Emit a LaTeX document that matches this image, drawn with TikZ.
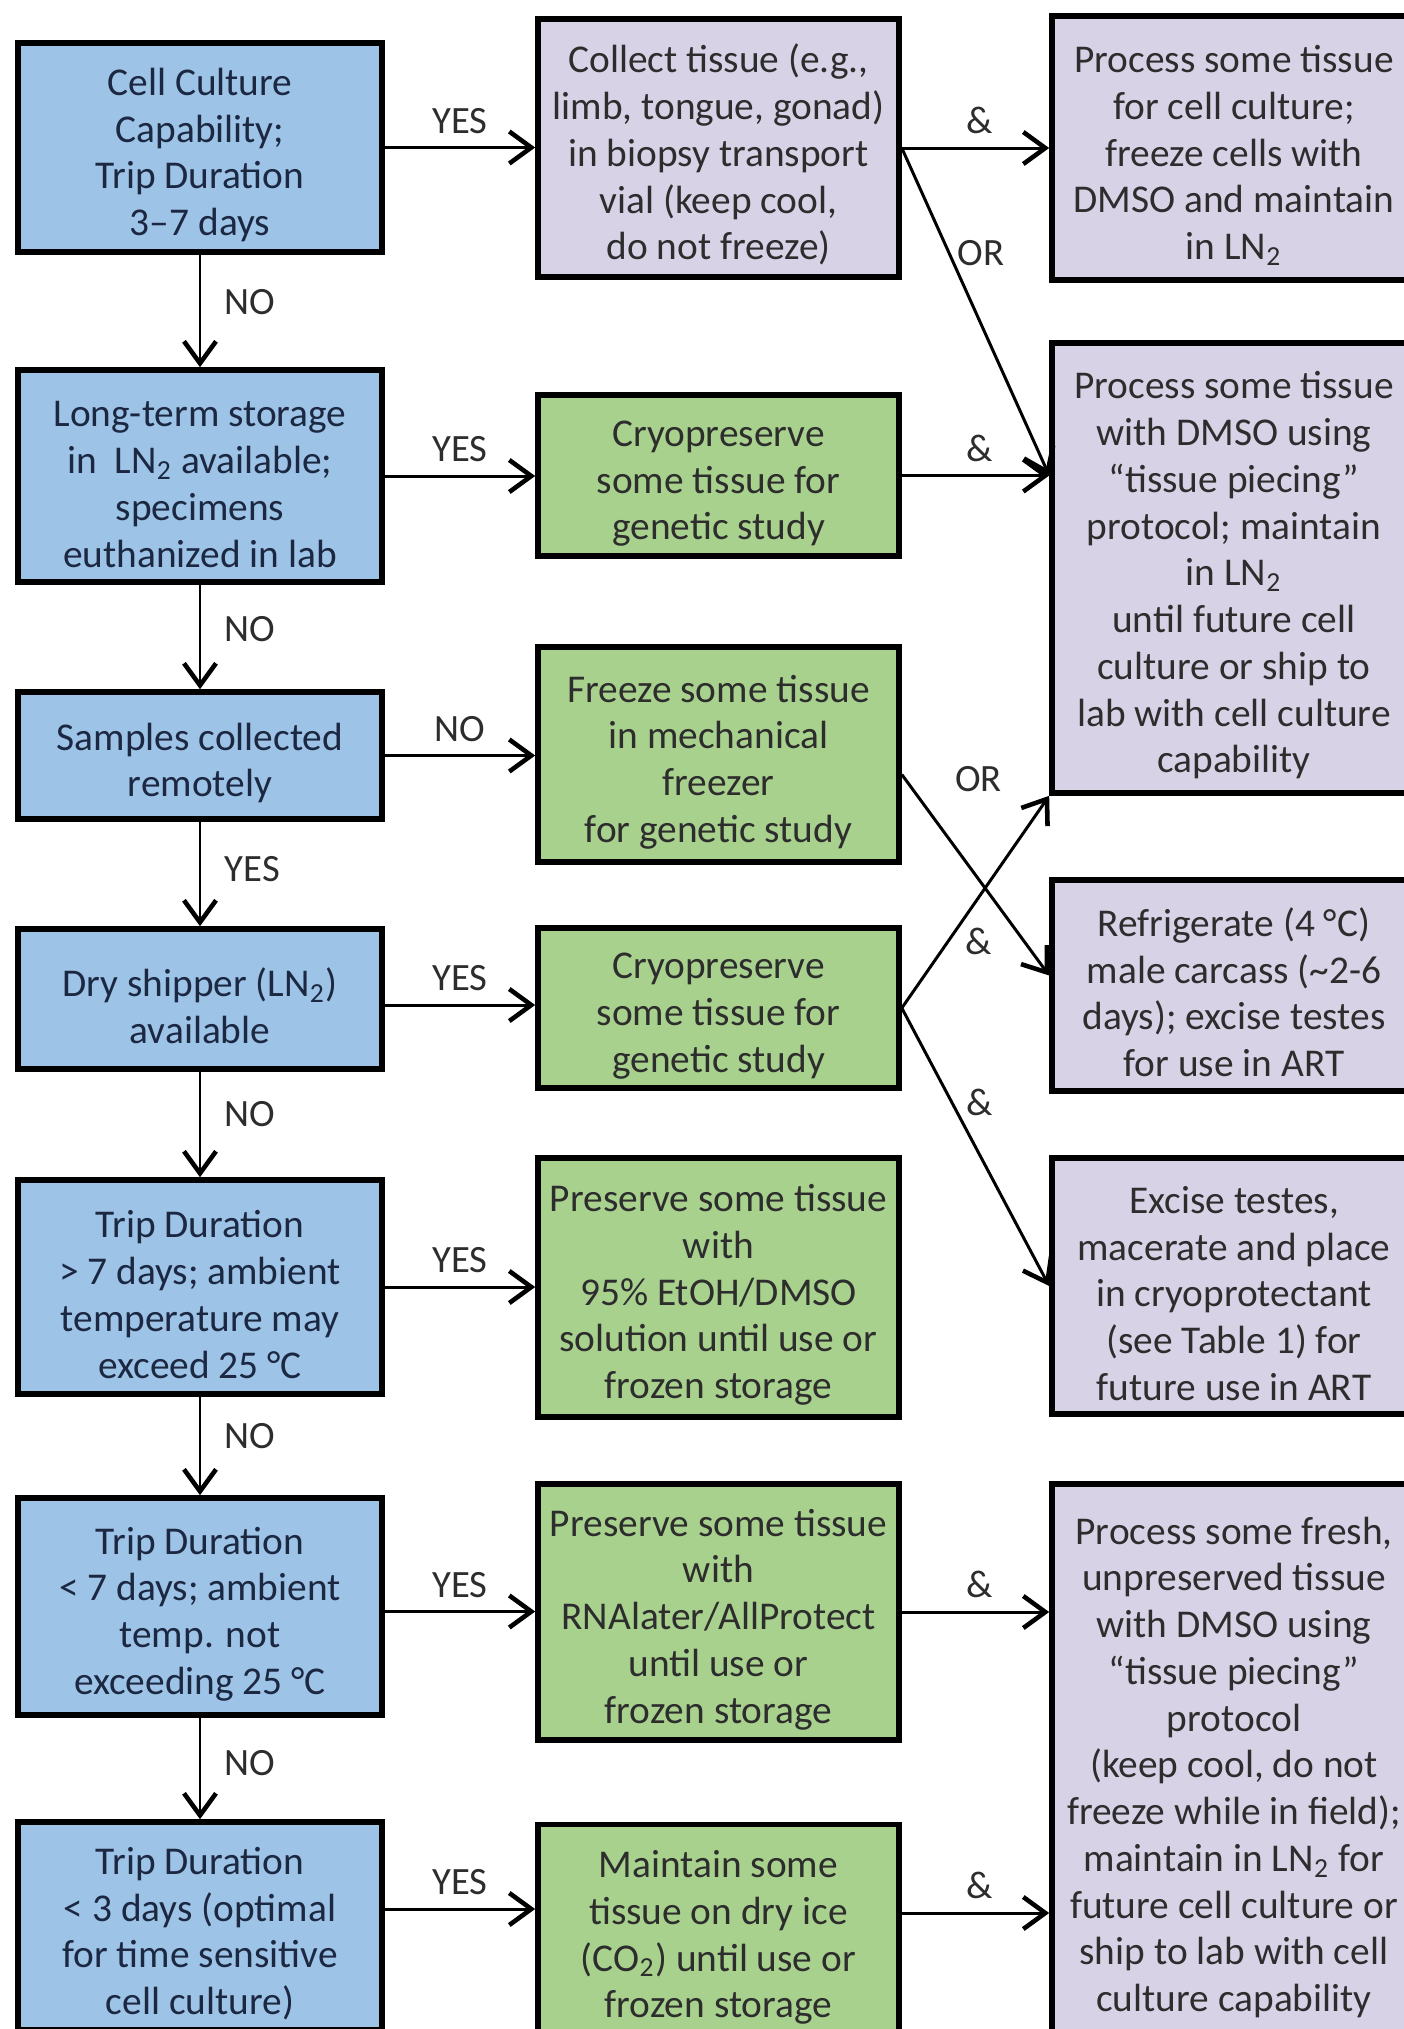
\documentclass[tikz,border=0pt]{standalone}
\usepackage{fontspec}
\setmainfont{Carlito}
\usetikzlibrary{arrows.meta}
\definecolor{queryfill}{RGB}{157,195,230}
\definecolor{storefill}{RGB}{169,209,142}
\definecolor{lilacfill}{RGB}{216,210,230}
\definecolor{querytext}{RGB}{28,40,66}
\definecolor{boxtext}{RGB}{45,45,45}
% extra room above the first line of a box
\newcommand\toproom{\rule{0pt}{12pt}}
\begin{document}
\begin{tikzpicture}[x=0.1mm,y=-0.1mm,
    box/.style={draw=black, line width=1.6pt, align=center, inner sep=0pt, text=boxtext,
        font=\fontsize{11.2}{13.3}\selectfont},
    query/.style={box, fill=queryfill, text=querytext, minimum width=36.4mm},
    store/.style={box, fill=storefill, minimum width=36.1mm},
    lilac/.style={box, fill=lilacfill, minimum width=36.4mm},
    arr/.style={-{Straight Barb[length=2.2mm,width=3.2mm,line width=1.3pt]}, line width=0.85pt},
    lbl/.style={font=\fontsize{11}{13}\selectfont, text=boxtext, inner sep=1.5pt}]
    \useasboundingbox (0,0) rectangle (1404,2029);
    \clip (0,0) rectangle (1404,2029);
    % questions
    \node[query, minimum height=20.9mm] (b1) at (200,147.5) {\toproom Cell Culture\\Capability;\\Trip Duration\\3–7 days};
    \node[query, minimum height=21.2mm] (b2) at (200,476) {\toproom Long-term storage\\in\ \ LN\textsubscript{2} available;\\specimens\\euthanized in lab};
    \node[query, minimum height=12.7mm] (b3) at (200,755.5) {\toproom Samples collected\\remotely};
    \node[query, minimum height=14mm] (b4) at (200,999) {\toproom Dry shipper (LN\textsubscript{2})\\available};
    \node[query, minimum height=21.4mm] (b5) at (200,1287) {\toproom Trip Duration\\> 7 days; ambient\\temperature may\\exceed 25 °C};
    \node[query, minimum height=21.7mm] (b6) at (200,1606.5) {\toproom Trip Duration\\< 7 days; ambient\\temp. not\\exceeding 25 °C};
    \node[query, minimum height=20.8mm] (b7) at (200,1926) {\toproom Trip Duration\\< 3 days (optimal\\for time sensitive\\cell culture)};
    % first steps
    \node[lilac, minimum width=36.1mm, minimum height=25.8mm] (m1) at (718.5,148) {\toproom Collect tissue (e.g.,\\limb, tongue, gonad)\\in biopsy transport\\vial (keep cool,\\do not freeze)};
    \node[store, minimum height=16.1mm] (m2) at (718.5,475.5) {\toproom Cryopreserve\\some tissue for\\genetic study};
    \node[store, minimum height=21.5mm] (m3) at (718.5,754.5) {\toproom Freeze some tissue\\in mechanical\\freezer\\for genetic study};
    \node[store, minimum height=16mm] (m4) at (718.5,1008) {\toproom Cryopreserve\\some tissue for\\genetic study};
    \node[store, minimum height=25.9mm] (m5) at (718.5,1287.5) {\toproom Preserve some tissue\\with\\95\% EtOH/DMSO\\solution until use or\\frozen storage};
    \node[store, minimum height=25.6mm] (m6) at (718.5,1612) {\toproom Preserve some tissue\\with\\RNAlater/AllProtect\\until use or\\frozen storage};
    \node[store, minimum height=21.1mm] (m7) at (718.5,1930) {\toproom Maintain some\\tissue on dry ice\\(CO\textsubscript{2}) until use or\\frozen storage};
    % follow-up
    \node[lilac, minimum height=26.4mm] (r1) at (1234,148) {\toproom Process some tissue\\for cell culture;\\freeze cells with\\DMSO and maintain\\in LN\textsubscript{2}};
    \node[lilac, minimum height=45mm] (r2) at (1234,568) {\toproom Process some tissue\\with DMSO using\\“tissue piecing”\\protocol; maintain\\in LN\textsubscript{2}\\until future cell\\culture or ship to\\lab with cell culture\\capability};
    \node[lilac, minimum height=21.1mm] (r3) at (1234,985.5) {\toproom Refrigerate (4 °C)\\male carcass (\textasciitilde2-6\\days); excise testes\\for use in ART};
    \node[lilac, minimum height=25.6mm] (r4) at (1234,1286) {\toproom Excise testes,\\macerate and place\\in cryoprotectant\\(see Table 1) for\\future use in ART};
    \node[lilac, minimum height=55.2mm] (r5) at (1234,1760) {\toproom Process some fresh,\\unpreserved tissue\\with DMSO using\\“tissue piecing”\\protocol\\(keep cool, do not\\freeze while in field);\\maintain in LN\textsubscript{2} for\\future cell culture or\\ship to lab with cell\\culture capability};
    % down the question column
    \draw[arr] (b1) -- node[lbl, right=1.8mm, pos=0.42] {NO} (b2);
    \draw[arr] (b2) -- node[lbl, right=1.8mm, pos=0.42] {NO} (b3);
    \draw[arr] (b3) -- node[lbl, right=1.8mm, pos=0.45] {YES} (b4);
    \draw[arr] (b4) -- node[lbl, right=1.8mm, pos=0.4] {NO} (b5);
    \draw[arr] (b5) -- node[lbl, right=1.8mm, pos=0.4] {NO} (b6);
    \draw[arr] (b6) -- node[lbl, right=1.8mm, pos=0.45] {NO} (b7);
    % across
    \draw[arr] (b1.east) -- node[lbl, above=2pt] {YES} (b1.east -| m1.west);
    \draw[arr] (b2.east) -- node[lbl, above=2pt] {YES} (b2.east -| m2.west);
    \draw[arr] (b3.east) -- node[lbl, above=2pt] {NO} (b3.east -| m3.west);
    \draw[arr] ([yshift=-0.6mm]b4.east) -- node[lbl, above=2pt] {YES} ([yshift=-0.6mm]b4.east -| m4.west);
    \draw[arr] (b5.east) -- node[lbl, above=2pt] {YES} (b5.east -| m5.west);
    \draw[arr] ([yshift=-0.5mm]b6.east) -- node[lbl, above=2pt] {YES} ([yshift=-0.5mm]b6.east -| m6.west);
    \draw[arr] ([yshift=1.7mm]b7.east) -- node[lbl, above=2pt] {YES} ([yshift=1.7mm]b7.east -| m7.west);
    \draw[arr] (m1.east) -- node[lbl, above=2pt, xshift=0.4mm] {\&} (m1.east -| r1.west);
    \draw[arr] (m1.east) -- node[lbl, right=0.2mm, pos=0.32] {OR} (r2.west |- m2.east);
    \draw[arr] (m2.east) -- node[lbl, above=2pt, xshift=0.4mm] {\&} (m2.east -| r2.west);
    \draw[arr] ([yshift=-2mm]m3.east) -- node[lbl, pos=0.52, yshift=10mm] {OR} ([yshift=1mm]r3.west);
    \draw[arr] (m4.east) -- node[lbl, pos=0.52, yshift=-4.4mm] {\&} (r2.south west);
    \draw[arr] (m4.east) -- node[lbl, pos=0.34, xshift=2.8mm] {\&} (r4.west);
    \draw[arr] (m6.east) -- node[lbl, above=2pt, xshift=0.4mm] {\&} (m6.east -| r5.west);
    \draw[arr] ([yshift=1.7mm]m7.east) -- node[lbl, above=2pt, xshift=0.4mm] {\&} ([yshift=1.7mm]m7.east -| r5.west);
\end{tikzpicture}
\end{document}
